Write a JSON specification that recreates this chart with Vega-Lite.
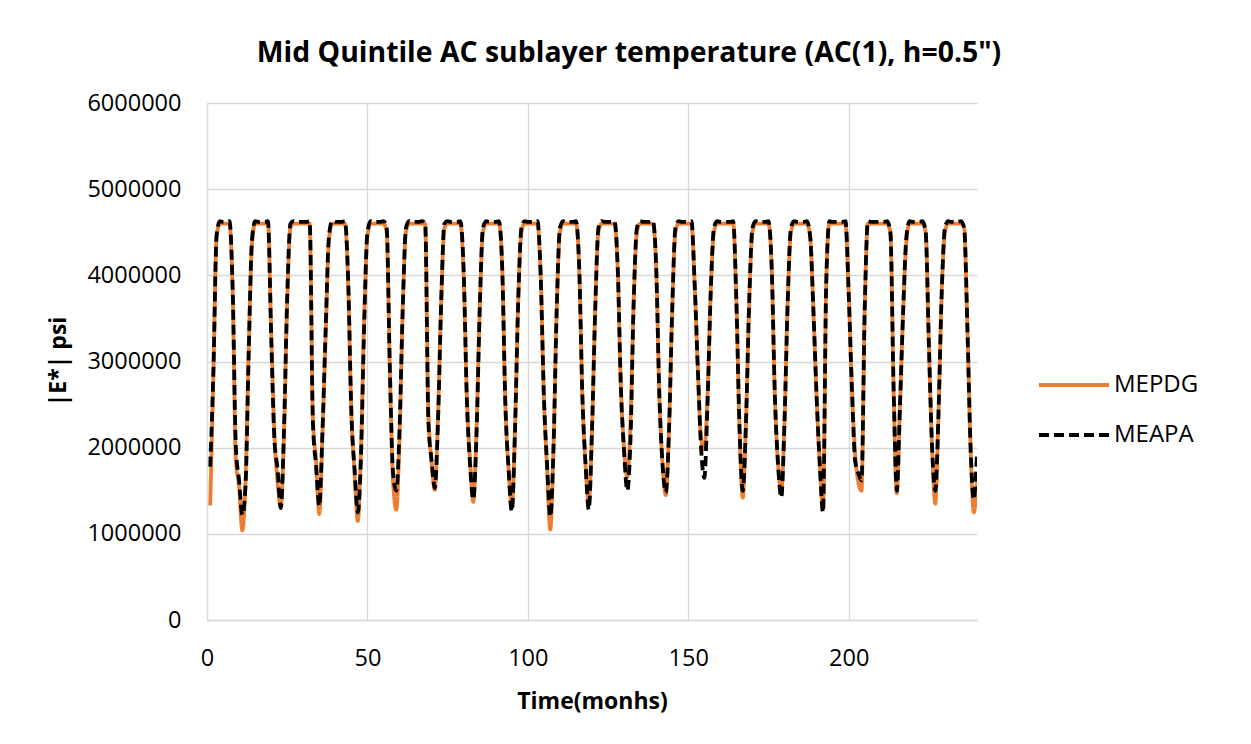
{
  "$schema": "https://vega.github.io/schema/vega-lite/v6.json",
  "width": 770,
  "height": 517,
  "autosize": {"type": "none"},
  "padding": {"left": 207, "top": 103, "right": 274, "bottom": 124},
  "background": "white",
  "config": {
    "view": {"stroke": null},
    "font": "Open Sans"
  },
  "title": {
    "text": "Mid Quintile AC sublayer temperature (AC(1), h=0.5\")",
    "font": "Open Sans",
    "fontSize": 28.4,
    "fontWeight": "bold",
    "color": "#000000",
    "anchor": "middle",
    "baseline": "alphabetic",
    "dx": 37,
    "dy": 41,
    "offset": 42
  },
  "data": {
    "values": [
      {"m":1,"MEPDG":1330000,"MEAPA":1780000},
      {"m":2,"MEPDG":2860000,"MEAPA":2900000},
      {"m":3,"MEPDG":4450000,"MEAPA":4470000},
      {"m":4,"MEPDG":4600000,"MEAPA":4630000},
      {"m":5,"MEPDG":4600000,"MEAPA":4620000},
      {"m":6,"MEPDG":4600000,"MEAPA":4620000},
      {"m":7,"MEPDG":4600000,"MEAPA":4630000},
      {"m":8,"MEPDG":3790000,"MEAPA":3850000},
      {"m":9,"MEPDG":1850000,"MEAPA":2000000},
      {"m":10,"MEPDG":1550000,"MEAPA":1620000},
      {"m":11,"MEPDG":1040000,"MEAPA":1220000},
      {"m":12,"MEPDG":1600000,"MEAPA":1550000},
      {"m":13,"MEPDG":3130000,"MEAPA":3100000},
      {"m":14,"MEPDG":4350000,"MEAPA":4400000},
      {"m":15,"MEPDG":4600000,"MEAPA":4630000},
      {"m":16,"MEPDG":4600000,"MEAPA":4620000},
      {"m":17,"MEPDG":4600000,"MEAPA":4620000},
      {"m":18,"MEPDG":4600000,"MEAPA":4620000},
      {"m":19,"MEPDG":4600000,"MEAPA":4630000},
      {"m":20,"MEPDG":3360000,"MEAPA":3300000},
      {"m":21,"MEPDG":2170000,"MEAPA":2100000},
      {"m":22,"MEPDG":1600000,"MEAPA":1750000},
      {"m":23,"MEPDG":1300000,"MEAPA":1300000},
      {"m":24,"MEPDG":2170000,"MEAPA":2200000},
      {"m":25,"MEPDG":3700000,"MEAPA":3750000},
      {"m":26,"MEPDG":4550000,"MEAPA":4600000},
      {"m":27,"MEPDG":4600000,"MEAPA":4630000},
      {"m":28,"MEPDG":4600000,"MEAPA":4620000},
      {"m":29,"MEPDG":4600000,"MEAPA":4620000},
      {"m":30,"MEPDG":4600000,"MEAPA":4620000},
      {"m":31,"MEPDG":4600000,"MEAPA":4620000},
      {"m":32,"MEPDG":4600000,"MEAPA":4630000},
      {"m":33,"MEPDG":2360000,"MEAPA":2300000},
      {"m":34,"MEPDG":1850000,"MEAPA":1780000},
      {"m":35,"MEPDG":1230000,"MEAPA":1320000},
      {"m":36,"MEPDG":2170000,"MEAPA":2200000},
      {"m":37,"MEPDG":3300000,"MEAPA":3400000},
      {"m":38,"MEPDG":4400000,"MEAPA":4450000},
      {"m":39,"MEPDG":4600000,"MEAPA":4630000},
      {"m":40,"MEPDG":4600000,"MEAPA":4620000},
      {"m":41,"MEPDG":4600000,"MEAPA":4620000},
      {"m":42,"MEPDG":4600000,"MEAPA":4620000},
      {"m":43,"MEPDG":4600000,"MEAPA":4630000},
      {"m":44,"MEPDG":3900000,"MEAPA":3950000},
      {"m":45,"MEPDG":2400000,"MEAPA":2400000},
      {"m":46,"MEPDG":1700000,"MEAPA":1750000},
      {"m":47,"MEPDG":1150000,"MEAPA":1250000},
      {"m":48,"MEPDG":2000000,"MEAPA":1900000},
      {"m":49,"MEPDG":3500000,"MEAPA":3450000},
      {"m":50,"MEPDG":4450000,"MEAPA":4500000},
      {"m":51,"MEPDG":4600000,"MEAPA":4630000},
      {"m":52,"MEPDG":4600000,"MEAPA":4620000},
      {"m":53,"MEPDG":4600000,"MEAPA":4620000},
      {"m":54,"MEPDG":4600000,"MEAPA":4620000},
      {"m":55,"MEPDG":4600000,"MEAPA":4630000},
      {"m":56,"MEPDG":4500000,"MEAPA":4550000},
      {"m":57,"MEPDG":2900000,"MEAPA":2900000},
      {"m":58,"MEPDG":1600000,"MEAPA":1700000},
      {"m":59,"MEPDG":1280000,"MEAPA":1500000},
      {"m":60,"MEPDG":2100000,"MEAPA":2200000},
      {"m":61,"MEPDG":3600000,"MEAPA":3600000},
      {"m":62,"MEPDG":4500000,"MEAPA":4550000},
      {"m":63,"MEPDG":4600000,"MEAPA":4630000},
      {"m":64,"MEPDG":4600000,"MEAPA":4620000},
      {"m":65,"MEPDG":4600000,"MEAPA":4620000},
      {"m":66,"MEPDG":4600000,"MEAPA":4620000},
      {"m":67,"MEPDG":4600000,"MEAPA":4630000},
      {"m":68,"MEPDG":4600000,"MEAPA":4600000},
      {"m":69,"MEPDG":2400000,"MEAPA":2300000},
      {"m":70,"MEPDG":1830000,"MEAPA":1850000},
      {"m":71,"MEPDG":1510000,"MEAPA":1530000},
      {"m":72,"MEPDG":2360000,"MEAPA":2300000},
      {"m":73,"MEPDG":3700000,"MEAPA":3700000},
      {"m":74,"MEPDG":4550000,"MEAPA":4600000},
      {"m":75,"MEPDG":4600000,"MEAPA":4630000},
      {"m":76,"MEPDG":4600000,"MEAPA":4620000},
      {"m":77,"MEPDG":4600000,"MEAPA":4620000},
      {"m":78,"MEPDG":4600000,"MEAPA":4620000},
      {"m":79,"MEPDG":4600000,"MEAPA":4630000},
      {"m":80,"MEPDG":4000000,"MEAPA":4050000},
      {"m":81,"MEPDG":2600000,"MEAPA":2550000},
      {"m":82,"MEPDG":1850000,"MEAPA":1800000},
      {"m":83,"MEPDG":1370000,"MEAPA":1400000},
      {"m":84,"MEPDG":2200000,"MEAPA":2150000},
      {"m":85,"MEPDG":3600000,"MEAPA":3600000},
      {"m":86,"MEPDG":4500000,"MEAPA":4550000},
      {"m":87,"MEPDG":4600000,"MEAPA":4630000},
      {"m":88,"MEPDG":4600000,"MEAPA":4620000},
      {"m":89,"MEPDG":4600000,"MEAPA":4620000},
      {"m":90,"MEPDG":4600000,"MEAPA":4620000},
      {"m":91,"MEPDG":4600000,"MEAPA":4630000},
      {"m":92,"MEPDG":4100000,"MEAPA":4100000},
      {"m":93,"MEPDG":2500000,"MEAPA":2500000},
      {"m":94,"MEPDG":1750000,"MEAPA":1750000},
      {"m":95,"MEPDG":1300000,"MEAPA":1260000},
      {"m":96,"MEPDG":2200000,"MEAPA":2200000},
      {"m":97,"MEPDG":3700000,"MEAPA":3700000},
      {"m":98,"MEPDG":4500000,"MEAPA":4550000},
      {"m":99,"MEPDG":4600000,"MEAPA":4630000},
      {"m":100,"MEPDG":4600000,"MEAPA":4620000},
      {"m":101,"MEPDG":4600000,"MEAPA":4620000},
      {"m":102,"MEPDG":4600000,"MEAPA":4620000},
      {"m":103,"MEPDG":4600000,"MEAPA":4630000},
      {"m":104,"MEPDG":4000000,"MEAPA":4000000},
      {"m":105,"MEPDG":2600000,"MEAPA":2600000},
      {"m":106,"MEPDG":1750000,"MEAPA":1800000},
      {"m":107,"MEPDG":1050000,"MEAPA":1200000},
      {"m":108,"MEPDG":2000000,"MEAPA":2000000},
      {"m":109,"MEPDG":3600000,"MEAPA":3600000},
      {"m":110,"MEPDG":4500000,"MEAPA":4550000},
      {"m":111,"MEPDG":4600000,"MEAPA":4630000},
      {"m":112,"MEPDG":4600000,"MEAPA":4620000},
      {"m":113,"MEPDG":4600000,"MEAPA":4620000},
      {"m":114,"MEPDG":4600000,"MEAPA":4620000},
      {"m":115,"MEPDG":4600000,"MEAPA":4630000},
      {"m":116,"MEPDG":4100000,"MEAPA":4100000},
      {"m":117,"MEPDG":2600000,"MEAPA":2600000},
      {"m":118,"MEPDG":1800000,"MEAPA":1800000},
      {"m":119,"MEPDG":1350000,"MEAPA":1280000},
      {"m":120,"MEPDG":2200000,"MEAPA":2200000},
      {"m":121,"MEPDG":3600000,"MEAPA":3600000},
      {"m":122,"MEPDG":4500000,"MEAPA":4550000},
      {"m":123,"MEPDG":4600000,"MEAPA":4630000},
      {"m":124,"MEPDG":4600000,"MEAPA":4620000},
      {"m":125,"MEPDG":4600000,"MEAPA":4620000},
      {"m":126,"MEPDG":4600000,"MEAPA":4620000},
      {"m":127,"MEPDG":4600000,"MEAPA":4630000},
      {"m":128,"MEPDG":4100000,"MEAPA":4100000},
      {"m":129,"MEPDG":2700000,"MEAPA":2700000},
      {"m":130,"MEPDG":2000000,"MEAPA":1950000},
      {"m":131,"MEPDG":1660000,"MEAPA":1500000},
      {"m":132,"MEPDG":2300000,"MEAPA":2100000},
      {"m":133,"MEPDG":3700000,"MEAPA":3700000},
      {"m":134,"MEPDG":4500000,"MEAPA":4550000},
      {"m":135,"MEPDG":4600000,"MEAPA":4630000},
      {"m":136,"MEPDG":4600000,"MEAPA":4620000},
      {"m":137,"MEPDG":4600000,"MEAPA":4620000},
      {"m":138,"MEPDG":4600000,"MEAPA":4620000},
      {"m":139,"MEPDG":4600000,"MEAPA":4630000},
      {"m":140,"MEPDG":4100000,"MEAPA":4100000},
      {"m":141,"MEPDG":2600000,"MEAPA":2600000},
      {"m":142,"MEPDG":1800000,"MEAPA":1800000},
      {"m":143,"MEPDG":1450000,"MEAPA":1480000},
      {"m":144,"MEPDG":2200000,"MEAPA":2200000},
      {"m":145,"MEPDG":3600000,"MEAPA":3600000},
      {"m":146,"MEPDG":4500000,"MEAPA":4550000},
      {"m":147,"MEPDG":4600000,"MEAPA":4630000},
      {"m":148,"MEPDG":4600000,"MEAPA":4620000},
      {"m":149,"MEPDG":4600000,"MEAPA":4620000},
      {"m":150,"MEPDG":4600000,"MEAPA":4620000},
      {"m":151,"MEPDG":4600000,"MEAPA":4630000},
      {"m":152,"MEPDG":3900000,"MEAPA":3900000},
      {"m":153,"MEPDG":2900000,"MEAPA":2900000},
      {"m":154,"MEPDG":2100000,"MEAPA":2000000},
      {"m":155,"MEPDG":1980000,"MEAPA":1650000},
      {"m":156,"MEPDG":2600000,"MEAPA":2500000},
      {"m":157,"MEPDG":3800000,"MEAPA":3800000},
      {"m":158,"MEPDG":4500000,"MEAPA":4550000},
      {"m":159,"MEPDG":4600000,"MEAPA":4630000},
      {"m":160,"MEPDG":4600000,"MEAPA":4620000},
      {"m":161,"MEPDG":4600000,"MEAPA":4620000},
      {"m":162,"MEPDG":4600000,"MEAPA":4620000},
      {"m":163,"MEPDG":4600000,"MEAPA":4620000},
      {"m":164,"MEPDG":4600000,"MEAPA":4630000},
      {"m":165,"MEPDG":3700000,"MEAPA":3700000},
      {"m":166,"MEPDG":2200000,"MEAPA":2200000},
      {"m":167,"MEPDG":1420000,"MEAPA":1500000},
      {"m":168,"MEPDG":2300000,"MEAPA":2300000},
      {"m":169,"MEPDG":3700000,"MEAPA":3700000},
      {"m":170,"MEPDG":4500000,"MEAPA":4550000},
      {"m":171,"MEPDG":4600000,"MEAPA":4630000},
      {"m":172,"MEPDG":4600000,"MEAPA":4620000},
      {"m":173,"MEPDG":4600000,"MEAPA":4620000},
      {"m":174,"MEPDG":4600000,"MEAPA":4620000},
      {"m":175,"MEPDG":4600000,"MEAPA":4630000},
      {"m":176,"MEPDG":4100000,"MEAPA":4100000},
      {"m":177,"MEPDG":2600000,"MEAPA":2600000},
      {"m":178,"MEPDG":1800000,"MEAPA":1800000},
      {"m":179,"MEPDG":1500000,"MEAPA":1420000},
      {"m":180,"MEPDG":2300000,"MEAPA":2300000},
      {"m":181,"MEPDG":3700000,"MEAPA":3700000},
      {"m":182,"MEPDG":4500000,"MEAPA":4550000},
      {"m":183,"MEPDG":4600000,"MEAPA":4630000},
      {"m":184,"MEPDG":4600000,"MEAPA":4620000},
      {"m":185,"MEPDG":4600000,"MEAPA":4620000},
      {"m":186,"MEPDG":4600000,"MEAPA":4620000},
      {"m":187,"MEPDG":4600000,"MEAPA":4630000},
      {"m":188,"MEPDG":4450000,"MEAPA":4450000},
      {"m":189,"MEPDG":3600000,"MEAPA":3600000},
      {"m":190,"MEPDG":2600000,"MEAPA":2600000},
      {"m":191,"MEPDG":1800000,"MEAPA":1800000},
      {"m":192,"MEPDG":1280000,"MEAPA":1250000},
      {"m":193,"MEPDG":3900000,"MEAPA":3900000},
      {"m":194,"MEPDG":4600000,"MEAPA":4630000},
      {"m":195,"MEPDG":4600000,"MEAPA":4620000},
      {"m":196,"MEPDG":4600000,"MEAPA":4620000},
      {"m":197,"MEPDG":4600000,"MEAPA":4620000},
      {"m":198,"MEPDG":4600000,"MEAPA":4620000},
      {"m":199,"MEPDG":4600000,"MEAPA":4630000},
      {"m":200,"MEPDG":3800000,"MEAPA":3800000},
      {"m":201,"MEPDG":2700000,"MEAPA":2700000},
      {"m":202,"MEPDG":1950000,"MEAPA":1850000},
      {"m":203,"MEPDG":1600000,"MEAPA":1700000},
      {"m":204,"MEPDG":1500000,"MEAPA":1620000},
      {"m":205,"MEPDG":3600000,"MEAPA":3600000},
      {"m":206,"MEPDG":4600000,"MEAPA":4630000},
      {"m":207,"MEPDG":4600000,"MEAPA":4620000},
      {"m":208,"MEPDG":4600000,"MEAPA":4620000},
      {"m":209,"MEPDG":4600000,"MEAPA":4620000},
      {"m":210,"MEPDG":4600000,"MEAPA":4620000},
      {"m":211,"MEPDG":4600000,"MEAPA":4620000},
      {"m":212,"MEPDG":4600000,"MEAPA":4630000},
      {"m":213,"MEPDG":4500000,"MEAPA":4500000},
      {"m":214,"MEPDG":2700000,"MEAPA":2700000},
      {"m":215,"MEPDG":1470000,"MEAPA":1500000},
      {"m":216,"MEPDG":2500000,"MEAPA":2500000},
      {"m":217,"MEPDG":3600000,"MEAPA":3600000},
      {"m":218,"MEPDG":4400000,"MEAPA":4450000},
      {"m":219,"MEPDG":4600000,"MEAPA":4630000},
      {"m":220,"MEPDG":4600000,"MEAPA":4620000},
      {"m":221,"MEPDG":4600000,"MEAPA":4620000},
      {"m":222,"MEPDG":4600000,"MEAPA":4620000},
      {"m":223,"MEPDG":4600000,"MEAPA":4630000},
      {"m":224,"MEPDG":4500000,"MEAPA":4500000},
      {"m":225,"MEPDG":3200000,"MEAPA":3200000},
      {"m":226,"MEPDG":2000000,"MEAPA":2000000},
      {"m":227,"MEPDG":1350000,"MEAPA":1500000},
      {"m":228,"MEPDG":2400000,"MEAPA":2400000},
      {"m":229,"MEPDG":3800000,"MEAPA":3800000},
      {"m":230,"MEPDG":4500000,"MEAPA":4550000},
      {"m":231,"MEPDG":4600000,"MEAPA":4630000},
      {"m":232,"MEPDG":4600000,"MEAPA":4620000},
      {"m":233,"MEPDG":4600000,"MEAPA":4620000},
      {"m":234,"MEPDG":4600000,"MEAPA":4620000},
      {"m":235,"MEPDG":4600000,"MEAPA":4630000},
      {"m":236,"MEPDG":4550000,"MEAPA":4550000},
      {"m":237,"MEPDG":3400000,"MEAPA":3400000},
      {"m":238,"MEPDG":2000000,"MEAPA":2000000},
      {"m":239,"MEPDG":1250000,"MEAPA":1400000},
      {"m":240,"MEPDG":1600000,"MEAPA":1950000}
    ]
  },
  "transform": [{"fold": ["MEPDG", "MEAPA"], "as": ["series", "value"]}],
  "mark": {"type": "line", "interpolate": "monotone", "strokeWidth": 3.8, "clip": true},
  "encoding": {
    "x": {
      "field": "m",
      "type": "quantitative",
      "scale": {"domain": [0, 240], "nice": false, "zero": false},
      "axis": {
        "title": "Time(monhs)",
        "values": [0, 50, 100, 150, 200],
        "grid": true,
        "gridColor": "#d9d9d9",
        "gridWidth": 1.3,
        "domainColor": "#d9d9d9",
        "domainWidth": 1.3,
        "ticks": false,
        "labelFont": "Open Sans",
        "labelFontSize": 23.5,
        "labelColor": "#000000",
        "labelBaseline": "alphabetic",
        "labelPadding": 45,
        "labelFlush": false,
        "titleFont": "Open Sans",
        "titleFontSize": 23,
        "titleFontWeight": "bold",
        "titleColor": "#000000",
        "titleBaseline": "alphabetic",
        "titleY": 88
      }
    },
    "y": {
      "field": "value",
      "type": "quantitative",
      "scale": {"domain": [0, 6000000], "nice": false},
      "axis": {
        "title": "|E*| psi",
        "values": [0, 1000000, 2000000, 3000000, 4000000, 5000000, 6000000],
        "format": "d",
        "grid": true,
        "gridColor": "#d9d9d9",
        "gridWidth": 1.3,
        "domainColor": "#d9d9d9",
        "domainWidth": 1.3,
        "ticks": false,
        "labelFont": "Open Sans",
        "labelFontSize": 23.5,
        "labelColor": "#000000",
        "labelPadding": 26,
        "labelFlush": false,
        "titleFont": "Open Sans",
        "titleFontSize": 23,
        "titleFontWeight": "bold",
        "titleColor": "#000000",
        "titleAngle": -90,
        "titleBaseline": "alphabetic",
        "titleX": -142,
        "titleY": 258
      }
    },
    "color": {
      "field": "series",
      "type": "nominal",
      "scale": {"domain": ["MEPDG", "MEAPA"], "range": ["#ED7D31", "#000000"]},
      "legend": {
        "title": null,
        "orient": "none",
        "legendX": 830,
        "legendY": 245,
        "padding": 0,
        "symbolType": "stroke",
        "symbolSize": 4900,
        "symbolStrokeWidth": 3.8,
        "labelFont": "Open Sans",
        "labelFontSize": 24,
        "labelColor": "#000000",
        "labelOffset": 3,
        "rowPadding": 1
      }
    },
    "strokeDash": {
      "field": "series",
      "type": "nominal",
      "scale": {"domain": ["MEPDG", "MEAPA"], "range": [[1, 0], [10, 5]]},
      "legend": null
    }
  }
}
